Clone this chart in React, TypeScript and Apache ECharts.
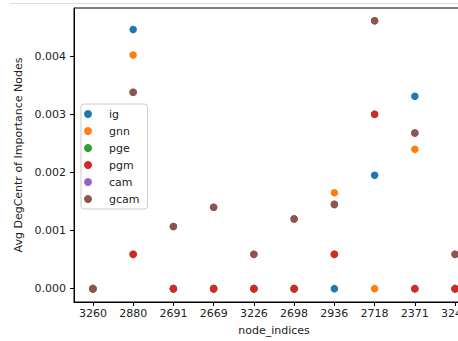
import React, { useEffect, useRef } from "react";
import * as echarts from "echarts";

const categories = ["3260", "2880", "2691", "2669", "3226", "2698", "2936", "2718", "2371", "3241"];
const igValues = [0, 0.00446, 0, 0, 0, 0, 0, 0.00195, 0.00331, 0];
const gnnValues = [0, 0.00402, 0, 0, 0, 0, 0.00165, 0, 0.0024, 0];
const pgeValues = [0, 0.00059, 0, 0, 0, 0, 0.00059, 0.003, 0, 0];
const pgmValues = [0, 0.00059, 0, 0, 0, 0, 0.00059, 0.003, 0, 0];
const camValues = [0, 0.00338, 0.00107, 0.0014, 0.00059, 0.0012, 0.00145, 0.00461, 0.00268, 0.00059];
const gcamValues = [0, 0.00338, 0.00107, 0.0014, 0.00059, 0.0012, 0.00145, 0.00461, 0.00268, 0.00059];
const yTicks = [0, 0.001, 0.002, 0.003, 0.004];

const seriesDefs = [
  { name: "ig", values: igValues, color: "#1f77b4" },
  { name: "gnn", values: gnnValues, color: "#ff7f0e" },
  { name: "pge", values: pgeValues, color: "#2ca02c" },
  { name: "pgm", values: pgmValues, color: "#d62728" },
  { name: "cam", values: camValues, color: "#9467bd" },
  { name: "gcam", values: gcamValues, color: "#8c564b" },
];

const FONT = "DejaVu Sans";

export default function App() {
  const ref = useRef<HTMLDivElement>(null);
  useEffect(() => {
    if (!ref.current) return;
    const chart = echarts.init(ref.current, undefined, { renderer: "svg" });
    const xTicks = categories.map((_, i) => i);
    chart.setOption({
      animation: false,
      backgroundColor: "#ffffff",
      textStyle: { fontFamily: FONT },
      grid: { left: 74, top: 8, width: 400, height: 298, show: true, borderColor: "#000", borderWidth: 1, backgroundColor: "transparent" },
      xAxis: {
        type: "value",
        min: -0.47,
        max: 9.47,
        name: "node_indices",
        nameLocation: "middle",
        nameGap: 23,
        nameTextStyle: { fontFamily: FONT, fontSize: 11, color: "#222" },
        axisLine: { show: true, onZero: false, lineStyle: { color: "#000", width: 1 } },
        axisTick: { show: true, customValues: xTicks, length: 4, lineStyle: { color: "#000" } },
        axisLabel: {
          customValues: xTicks,
          margin: 6,
          fontFamily: FONT,
          fontSize: 11,
          color: "#222",
          formatter: (v: number) => categories[Math.round(v)] ?? "",
        },
        splitLine: { show: false },
      },
      yAxis: {
        type: "value",
        min: -0.00023,
        max: 0.00483,
        name: "Avg DegCentr of Importance Nodes",
        nameLocation: "middle",
        nameGap: 45,
        nameTextStyle: { fontFamily: FONT, fontSize: 11, color: "#222" },
        axisLine: { show: true, onZero: false, lineStyle: { color: "#000", width: 1 } },
        axisTick: { show: true, customValues: yTicks, length: 4, lineStyle: { color: "#000" } },
        axisLabel: {
          customValues: yTicks,
          margin: 8,
          fontFamily: FONT,
          fontSize: 11,
          color: "#222",
          formatter: (v: number) => v.toFixed(3),
        },
        splitLine: { show: false },
      },
      legend: {
        orient: "vertical",
        left: 81,
        top: 104,
        padding: [4, 8, 4, 3],
        itemWidth: 22,
        itemHeight: 8,
        itemGap: 5,
        backgroundColor: "rgba(255,255,255,0.8)",
        borderColor: "#cccccc",
        borderWidth: 1,
        borderRadius: 3,
        textStyle: { fontFamily: FONT, fontSize: 11, color: "#222", lineHeight: 12, padding: [0, 0, 0, 5] },
        data: seriesDefs.map((s) => ({ name: s.name, icon: "circle" })),
      },
      graphic: [
        { type: "line", shape: { x1: 10, y1: 3.5, x2: 458, y2: 3.5 }, style: { stroke: "#dddddd", lineWidth: 1 } },
      ],
      series: seriesDefs.map((s) => ({
        name: s.name,
        type: "scatter",
        symbol: "circle",
        symbolSize: 7.5,
        itemStyle: { color: s.color, opacity: 1 },
        data: s.values.map((v, i) => [i, v]),
      })),
    });
    return () => chart.dispose();
  }, []);
  return (
    <div style={{ position: "fixed", left: 0, top: 0, width: 458, height: 341, overflow: "hidden", background: "#fff" }}>
      <div ref={ref} style={{ width: 500, height: 341 }} />
    </div>
  );
}
